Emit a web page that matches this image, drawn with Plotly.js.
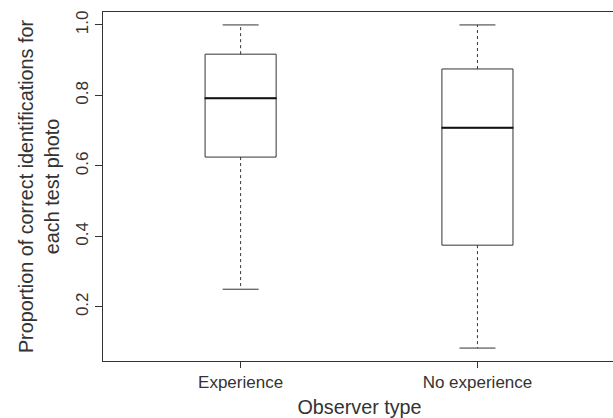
<!DOCTYPE html>
<html>
<head>
<meta charset="utf-8">
<script src="https://cdn.plot.ly/plotly-3.0.1.min.js"></script>
<style>html,body{margin:0;padding:0;background:#fff;overflow:hidden;}#chart{width:616px;height:418px;}</style>
</head>
<body>
<div id="chart"></div>
<script>
// Data
const categories = ["Experience", "No experience"];
const lowerWhisker = [0.25, 0.083];
const q1Values = [0.625, 0.375];
const medianValues = [0.792, 0.708];
const q3Values = [0.917, 0.875];
const upperWhisker = [1.0, 1.0];
const yTickValues = [0.2, 0.4, 0.6, 0.8, 1.0];
const yTickLabels = ["0.2", "0.4", "0.6", "0.8", "1.0"];

const lineColor = "#333333";
const fontFamily = "Liberation Sans, Arial, Helvetica, sans-serif";

// Box (edges) — whiskers drawn separately as dotted lines
const boxTrace = {
  type: "box",
  x: categories,
  q1: q1Values,
  median: medianValues,
  q3: q3Values,
  lowerfence: q1Values,
  upperfence: q3Values,
  width: 0.3,
  whiskerwidth: 0,
  fillcolor: "rgba(0,0,0,0)",
  line: { color: lineColor, width: 1 },
  boxpoints: false,
  hoverinfo: "skip",
  showlegend: false
};

// Dotted whiskers
const wx = [], wy = [];
categories.forEach((c, i) => {
  wx.push(c, c, null, c, c, null);
  wy.push(q3Values[i], upperWhisker[i], null, q1Values[i], lowerWhisker[i], null);
});
const whiskerTrace = {
  type: "scatter", mode: "lines", x: wx, y: wy,
  line: { color: lineColor, width: 1, dash: "dot" },
  hoverinfo: "skip", showlegend: false
};

// Whisker caps (staples)
const capTrace = {
  type: "scatter", mode: "markers",
  x: categories.concat(categories),
  y: lowerWhisker.concat(upperWhisker),
  marker: { symbol: "line-ew", size: 25.7, color: lineColor, line: { color: lineColor, width: 1 } },
  hoverinfo: "skip", showlegend: false
};

// Thicker median line
const medianTrace = {
  type: "scatter", mode: "markers",
  x: categories, y: medianValues,
  marker: { symbol: "line-ew", size: 51.4, color: "#111", line: { color: "#111", width: 2 } },
  hoverinfo: "skip", showlegend: false
};

const layout = {
  width: 616, height: 418,
  margin: { l: 102.5, r: 0, t: 11.5, b: 57 },
  paper_bgcolor: "#fff", plot_bgcolor: "#fff",
  font: { family: fontFamily, color: "#333", size: 17 },
  showlegend: false,
  xaxis: {
    type: "category",
    range: [-0.581, 1.585],
    showgrid: false, zeroline: false,
    showline: true, linecolor: lineColor, linewidth: 1, mirror: true,
    ticks: "outside", ticklen: 6, tickcolor: lineColor, tickwidth: 1,
    tickfont: { size: 17, color: "#333" },
    title: { text: "Observer type", font: { size: 19.8, color: "#333" }, standoff: 9 }
  },
  yaxis: {
    range: [0.0463, 1.0367],
    tickmode: "array", tickvals: yTickValues, ticktext: yTickLabels,
    tickangle: -90,
    showgrid: false, zeroline: false,
    showline: true, linecolor: lineColor, linewidth: 1, mirror: false,
    ticks: "outside", ticklen: 7, tickcolor: lineColor, tickwidth: 1,
    tickfont: { size: 17, color: "#333" },
    title: { text: "Proportion of correct identifications for<br>each test photo", font: { size: 19.8, color: "#333" }, standoff: 8 }
  }
};

Plotly.newPlot("chart", [boxTrace, whiskerTrace, capTrace, medianTrace], layout, { staticPlot: true, displayModeBar: false });
</script>
</body>
</html>
